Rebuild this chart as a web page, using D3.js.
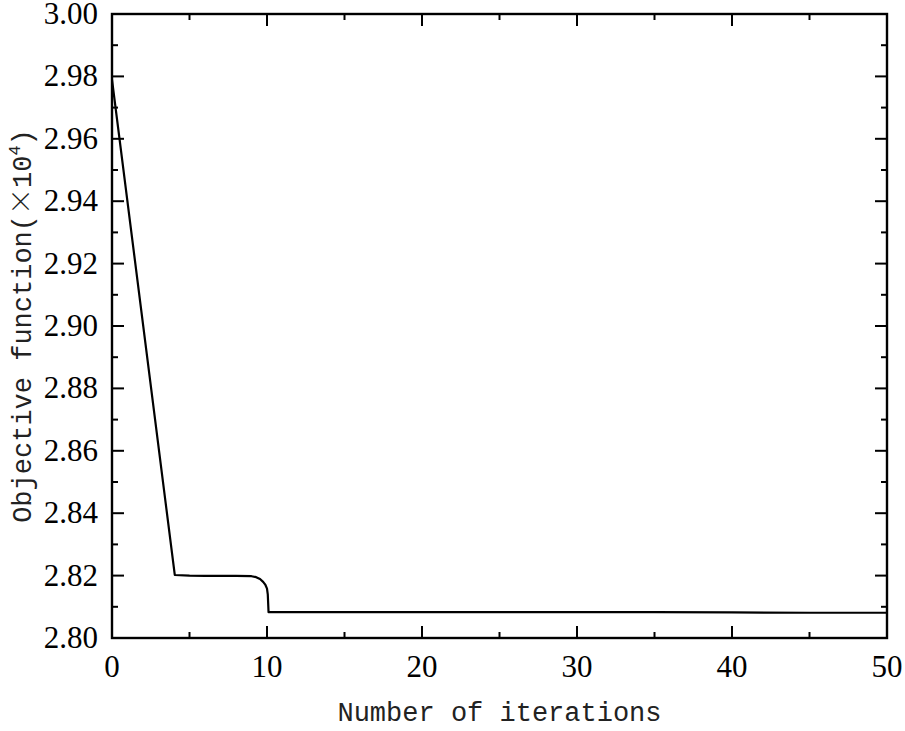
<!DOCTYPE html>
<html>
<head>
<meta charset="utf-8">
<script src="https://cdn.jsdelivr.net/npm/d3@7"></script>
<style>
  body { margin: 0; background: #fff; }
  svg { display: block; }
</style>
</head>
<body>
<svg id="chart" width="905" height="731"></svg>
<script>
// iteration, objective value (x10^4)
const iterations = [0, 4.05, 5, 6, 7, 8, 9, 9.3, 9.55, 9.75, 9.9, 10.0, 10.05, 10.1, 15, 20, 25, 30, 35, 40, 45, 50];
const objective = [2.979, 2.8202, 2.8200, 2.8199, 2.8199, 2.8199, 2.8198, 2.8195, 2.8189, 2.8180, 2.8170, 2.8158, 2.8140, 2.8083, 2.8083, 2.8083, 2.8083, 2.8083, 2.8083, 2.8082, 2.8081, 2.8081];
const xTicks = [0, 10, 20, 30, 40, 50];
const yTicks = [2.80, 2.82, 2.84, 2.86, 2.88, 2.90, 2.92, 2.94, 2.96, 2.98, 3.00];

const margin = { top: 14, right: 18, bottom: 93, left: 112 };
const width = 905, height = 731;

const serif = "'Liberation Serif', 'Times New Roman', serif";
const mono = "'Liberation Mono', 'DejaVu Sans Mono', monospace";

const svg = d3.select('#chart');

const x = d3.scaleLinear().domain([0, 50]).range([margin.left, width - margin.right]);
const y = d3.scaleLinear().domain([2.80, 3.00]).range([height - margin.bottom, margin.top]);

const x0 = x.range()[0], x1 = x.range()[1];
const y0 = y.range()[0], y1 = y.range()[1];

const major = 12, minor = 6;
const xMinor = d3.range(5, 50, 10);
const yMinor = d3.range(2.81, 3.0, 0.02);

const ticks = svg.append('g').attr('class', 'ticks')
  .attr('stroke', '#000').attr('stroke-width', 2);

// bottom + top
xTicks.concat(xMinor).forEach((t) => {
  const len = xTicks.includes(t) ? major : minor;
  ticks.append('line').attr('x1', x(t)).attr('x2', x(t)).attr('y1', y0).attr('y2', y0 - len);
  ticks.append('line').attr('x1', x(t)).attr('x2', x(t)).attr('y1', y1).attr('y2', y1 + len);
});
// left + right
yTicks.forEach((t) => {
  ticks.append('line').attr('x1', x0).attr('x2', x0 + major).attr('y1', y(t)).attr('y2', y(t));
  ticks.append('line').attr('x1', x1).attr('x2', x1 - major).attr('y1', y(t)).attr('y2', y(t));
});
yMinor.forEach((t) => {
  ticks.append('line').attr('x1', x0).attr('x2', x0 + minor).attr('y1', y(t)).attr('y2', y(t));
  ticks.append('line').attr('x1', x1).attr('x2', x1 - minor).attr('y1', y(t)).attr('y2', y(t));
});

// data line
const line = d3.line()
  .x((d, i) => x(iterations[i]))
  .y(d => y(d));

svg.append('path')
  .datum(objective)
  .attr('fill', 'none')
  .attr('stroke', '#000')
  .attr('stroke-width', 2.2)
  .attr('stroke-linejoin', 'round')
  .attr('d', line);

// frame
svg.append('rect')
  .attr('x', x0).attr('y', y1)
  .attr('width', x1 - x0).attr('height', y0 - y1)
  .attr('fill', 'none').attr('stroke', '#000').attr('stroke-width', 2.4);

// tick labels
svg.append('g').selectAll('text')
  .data(xTicks)
  .join('text')
  .style('font-family', serif)
  .style('font-size', '31px')
  .attr('x', d => x(d))
  .attr('y', y0 + 39)
  .attr('text-anchor', 'middle')
  .text(d => d);

svg.append('g').selectAll('text')
  .data(yTicks)
  .join('text')
  .style('font-family', serif)
  .style('font-size', '31px')
  .attr('x', x0 - 14)
  .attr('y', d => y(d) + 10)
  .attr('text-anchor', 'end')
  .text(d => d3.format('.2f')(d));

// axis titles
svg.append('text')
  .style('font-family', mono)
  .style('font-size', '27px')
  .style('fill', '#222')
  .attr('x', (x0 + x1) / 2)
  .attr('y', 721)
  .attr('text-anchor', 'middle')
  .text('Number of iterations');

const yt = svg.append('text')
  .style('font-family', mono)
  .style('font-size', '27px')
  .style('fill', '#222')
  .attr('transform', `translate(31,${(y0 + y1) / 2}) rotate(-90)`)
  .attr('text-anchor', 'middle');
yt.append('tspan').text('Objective function(');
yt.append('tspan').style('font-family', "'Noto Sans CJK SC', sans-serif").style('font-weight', 300).text('\u00d7');
yt.append('tspan').text('10');
yt.append('tspan').style('font-size', '17px').attr('dy', -11).text('4');
yt.append('tspan').attr('dy', 11).text(')');
</script>
</body>
</html>
